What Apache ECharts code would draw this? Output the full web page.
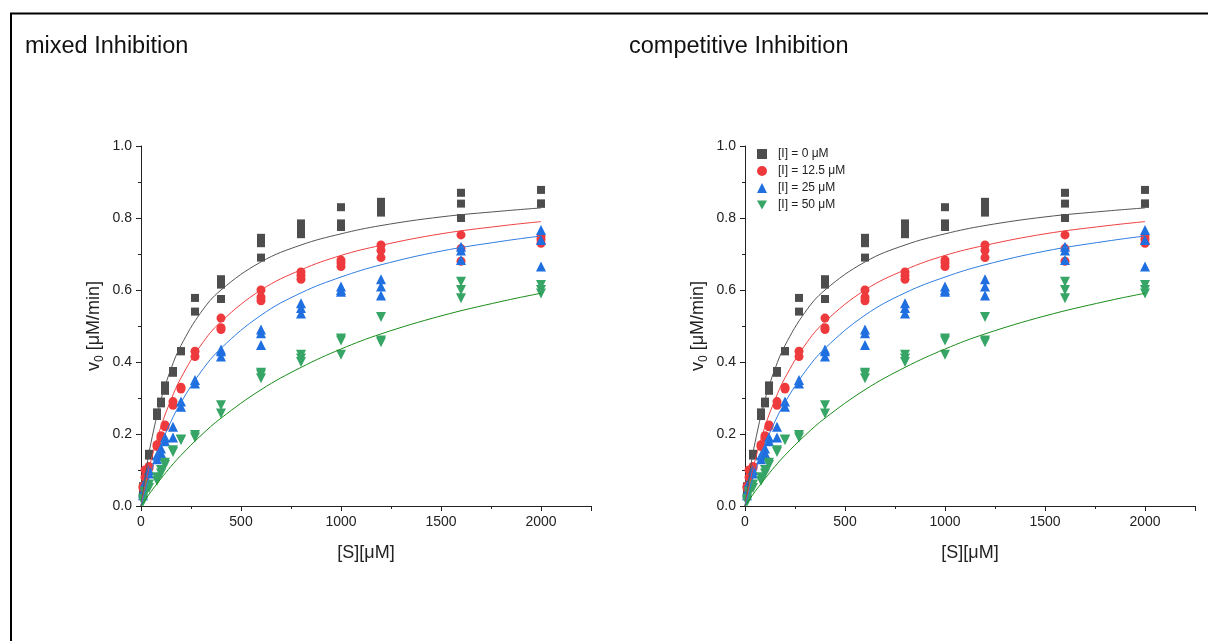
<!DOCTYPE html>
<html>
<head>
<meta charset="utf-8">
<script src="https://cdn.jsdelivr.net/npm/echarts@6/dist/echarts.min.js"></script>
<style>
html,body{margin:0;padding:0;background:#fff;}
#c{width:1208px;height:641px;}
</style>
</head>
<body>
<div id="c"></div>
<script>
// ---- data ----
const panelTitles = ['mixed Inhibition', 'competitive Inhibition'];
const seriesNames = ['[I] = 0 \u03bcM', '[I] = 12.5 \u03bcM', '[I] = 25 \u03bcM', '[I] = 50 \u03bcM'];
const substrate = [10, 20, 40, 80, 100, 120, 160, 200, 270, 400, 600, 800, 1000, 1200, 1600, 2000];

const rateI0 = [
  [0.03, 0.05, 0.055], [0.07, 0.075], [0.14, 0.145], [0.25, 0.26], [0.285, 0.29],
  [0.32, 0.335], [0.37, 0.375], [0.43, 0.43], [0.54, 0.578], [0.575, 0.615, 0.63],
  [0.69, 0.73, 0.745], [0.755, 0.77, 0.785], [0.775, 0.785, 0.83], [0.815, 0.835, 0.845],
  [0.80, 0.84, 0.87], [0.84, 0.84, 0.878]
];
const rateI12 = [
  [0.05, 0.055], [0.08, 0.1], [0.105, 0.11], [0.165, 0.17], [0.19, 0.195],
  [0.22, 0.225], [0.28, 0.29], [0.325, 0.33], [0.415, 0.43], [0.49, 0.495, 0.522],
  [0.57, 0.58, 0.60], [0.63, 0.64, 0.65], [0.665, 0.675, 0.683], [0.69, 0.71, 0.725],
  [0.68, 0.715, 0.753], [0.73, 0.74, 0.748]
];
const rateI25 = [
  [0.03, 0.04], [0.06, 0.065], [0.09, 0.10], [0.13, 0.14], [0.147, 0.16],
  [0.18, 0.19], [0.19, 0.22], [0.276, 0.29], [0.34, 0.35], [0.415, 0.43, 0.435],
  [0.447, 0.48, 0.49], [0.535, 0.55, 0.563], [0.595, 0.60, 0.61], [0.585, 0.61, 0.63],
  [0.683, 0.71, 0.72], [0.665, 0.739, 0.767]
];
const rateI50 = [
  [0.012, 0.02], [0.035, 0.04], [0.05, 0.06], [0.07, 0.08], [0.09, 0.1],
  [0.114, 0.12], [0.15, 0.155], [0.183, 0.185], [0.19, 0.197], [0.257, 0.28],
  [0.355, 0.365, 0.37], [0.40, 0.41, 0.42], [0.42, 0.46, 0.465], [0.455, 0.46, 0.525],
  [0.577, 0.60, 0.623], [0.59, 0.60, 0.614]
];

// fitted curves as drawn in the reference
const fitS   = [0, 25, 50, 100, 150, 200, 300, 400, 600, 800, 1000, 1200, 1500, 1800, 2000];
const fitI0  = [0, 0.097, 0.176, 0.295, 0.381, 0.446, 0.538, 0.600, 0.678, 0.725, 0.756, 0.779, 0.803, 0.819, 0.828];
const fitI12 = [0, 0.067, 0.126, 0.221, 0.295, 0.356, 0.447, 0.512, 0.600, 0.656, 0.696, 0.724, 0.756, 0.778, 0.790];
const fitI25 = [0, 0.050, 0.094, 0.171, 0.235, 0.288, 0.373, 0.438, 0.530, 0.592, 0.636, 0.670, 0.708, 0.735, 0.750];
const fitI50 = [0, 0.020, 0.040, 0.076, 0.110, 0.141, 0.196, 0.244, 0.323, 0.385, 0.436, 0.478, 0.528, 0.568, 0.591];

const xTicks = [0, 500, 1000, 1500, 2000];
const yTicks = [0.0, 0.2, 0.4, 0.6, 0.8, 1.0];

// ---- styling ----
const markerColors = ['#4d4d4d', '#ee3a3d', '#1f6fe0', '#36a566'];
const lineColors = ['#555555', '#ee4040', '#2f7de0', '#1a8c1a'];
const symbols = ['rect', 'circle', 'triangle', 'path://M0,0 L10,0 L5,9 Z'];
const symbolSizes = [8, 9, 10, 10];
const rates = [rateI0, rateI12, rateI25, rateI50];
const fits = [fitI0, fitI12, fitI25, fitI50];
const FONT = 'Liberation Sans, Arial, sans-serif';

function points(vals) {
  const out = [];
  substrate.forEach((s, i) => vals[i].forEach(v => out.push([s, v])));
  return out;
}
function curve(vals) { return fitS.map((s, i) => [s, vals[i]]); }

const gridLefts = [141, 745];
const grids = gridLefts.map(l => ({ left: l, top: 146, width: 450, height: 360, containLabel: false }));

const xAxes = gridLefts.map((l, k) => ({
  type: 'value', gridIndex: k, min: 0, max: 2250, interval: 500,
  name: '[S][\u03bcM]', nameLocation: 'middle', nameGap: 38,
  nameTextStyle: { fontFamily: FONT, fontSize: 18, color: '#222' },
  axisLine: { show: true, lineStyle: { color: '#222', width: 1 } },
  axisTick: { show: true, inside: false, length: 5, lineStyle: { color: '#222' } },
  minorTick: { show: true, splitNumber: 2, length: 3, lineStyle: { color: '#222' } },
  axisLabel: { showMaxLabel: false, margin: 9, fontFamily: FONT, fontSize: 14, color: '#222',
    formatter: v => xTicks.indexOf(v) >= 0 ? String(v) : '' },
  splitLine: { show: false }
}));
const yAxes = gridLefts.map((l, k) => ({
  type: 'value', gridIndex: k, min: 0, max: 1, interval: 0.2,
  name: '{a|v}{s|0}{a| [\u03bcM/min]}', nameLocation: 'middle', nameGap: 35,
  nameTextStyle: { fontFamily: FONT, fontSize: 18, color: '#222',
    rich: { a: { fontFamily: FONT, fontSize: 18, color: '#222' },
            s: { fontFamily: FONT, fontSize: 12, color: '#222', verticalAlign: 'bottom', padding: [11, 0, 0, 0] } } },
  axisLine: { show: true, lineStyle: { color: '#222', width: 1 } },
  axisTick: { show: true, inside: false, length: 5, lineStyle: { color: '#222' } },
  minorTick: { show: true, splitNumber: 2, length: 3, lineStyle: { color: '#222' } },
  axisLabel: { margin: 9, fontFamily: FONT, fontSize: 14, color: '#222',
    formatter: v => v.toFixed(1) },
  splitLine: { show: false }
}));

const series = [];
[0, 1].forEach(k => {
  for (let j = 0; j < 4; j++) {
    series.push({
      name: seriesNames[j], type: 'scatter', xAxisIndex: k, yAxisIndex: k,
      symbol: symbols[j], symbolSize: symbolSizes[j],
      itemStyle: { color: markerColors[j], opacity: 1 },
      data: points(rates[j]), z: 2, silent: true
    });
  }
  for (let j = 0; j < 4; j++) {
    series.push({
      name: 'fit' + j, type: 'line', xAxisIndex: k, yAxisIndex: k,
      showSymbol: false, symbol: 'none', smooth: 0.4,
      lineStyle: { color: lineColors[j], width: 1 },
      data: curve(fits[j]), z: 3, silent: true
    });
  }
});

const chart = echarts.init(document.getElementById('c'), null, { renderer: 'canvas' });
chart.setOption({
  animation: false,
  backgroundColor: '#fff',
  title: panelTitles.map((t, k) => ({
    text: t, left: k === 0 ? 25 : 629, top: 35, padding: 0,
    textStyle: { fontFamily: FONT, fontSize: 23.5, fontWeight: 'normal', color: '#111' }
  })),
  legend: {
    data: seriesNames, orient: 'vertical', left: 757, top: 148, padding: 0,
    itemWidth: 10, itemHeight: 10, itemGap: 5,
    textStyle: { fontFamily: FONT, fontSize: 12, color: '#222', padding: [0, 0, 0, 6] }
  },
  grid: grids,
  xAxis: xAxes,
  yAxis: yAxes,
  series: series,
  graphic: [{
    type: 'rect', shape: { x: 11, y: 13.5, width: 1230, height: 660 },
    style: { fill: 'none', stroke: '#000', lineWidth: 2 }, silent: true, z: 100
  }]
});
</script>
</body>
</html>
